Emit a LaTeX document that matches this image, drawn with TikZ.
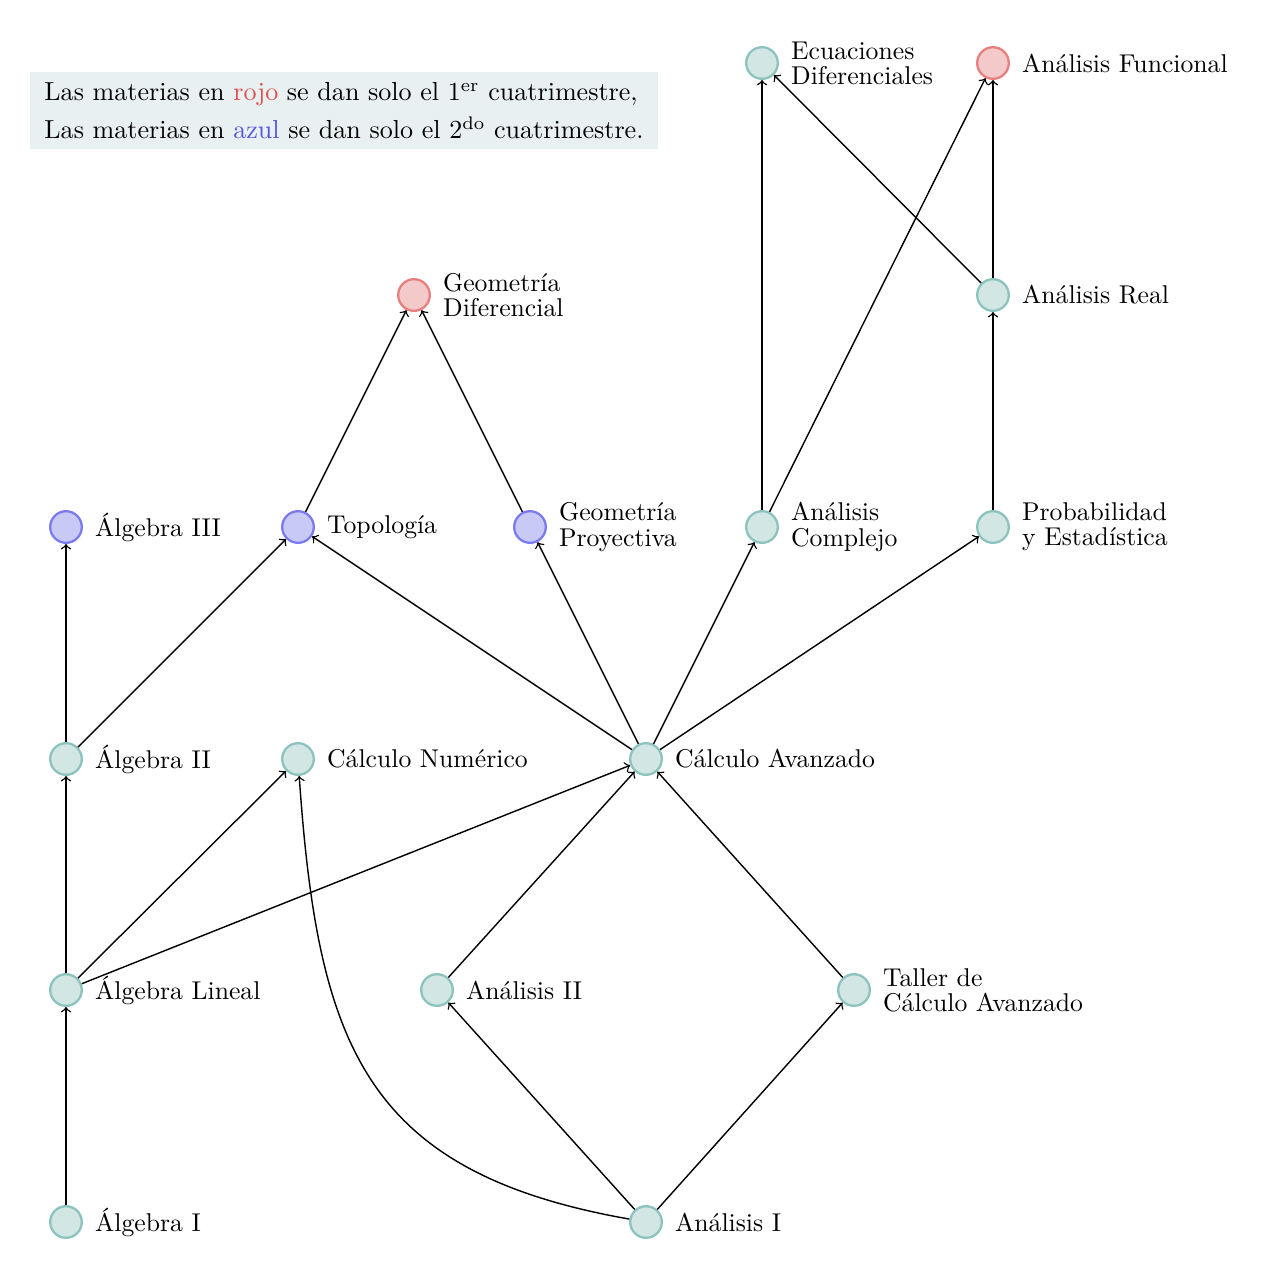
\documentclass[tikz,border=0pt]{standalone}
\usepackage{fontspec}
\definecolor{tfill}{HTML}{D2E6E3}
\definecolor{tdraw}{HTML}{8CC3BE}
\definecolor{rfill}{HTML}{F3C9C9}
\definecolor{rdraw}{HTML}{E77F7F}
\definecolor{bfill}{HTML}{C9C9F6}
\definecolor{bdraw}{HTML}{7B7BEE}
\definecolor{legbg}{HTML}{E8F0F1}
\definecolor{rojotxt}{HTML}{DD5050}
\definecolor{azultxt}{HTML}{5555DD}
\begin{document}
\begin{tikzpicture}[x=0.3891pt,y=-0.3891pt,
  materia/.style={circle,inner sep=0pt,minimum size=12.3pt,line width=0.9pt,draw=tdraw,fill=tfill},
  primer/.style={materia,draw=rdraw,fill=rfill},
  segundo/.style={materia,draw=bdraw,fill=bfill},
  every label/.style={align=left,font={\fontsize{10}{9.8}\selectfont},label distance=1.2pt},
  flecha/.style={->,line width=0.55pt,black}]
\useasboundingbox (0,0) rectangle (1274,1280);

\node[fill=legbg,inner xsep=5.6pt,inner ysep=4pt,align=left,font={\fontsize{10.14}{14.8}\selectfont}] (leg) at (344,110.5)
 {Las materias en \textcolor{rojotxt}{rojo} se dan solo el 1\textsuperscript{er} cuatrimestre,\\
  Las materias en \textcolor{azultxt}{azul} se dan solo el 2\textsuperscript{do} cuatrimestre.};

\node[materia,label={[name=A1t]right:Álgebra I}] (A1) at (66,1222) {};
\node[materia,label={[name=ALt]right:Álgebra Lineal}] (AL) at (66,990) {};
\node[materia,label={[name=A2t]right:Álgebra II}] (A2) at (66,759) {};
\node[segundo,label={[name=A3t]right:Álgebra III}] (A3) at (66,527) {};
\node[segundo,label={[name=Topt]right:Topología}] (Top) at (298,527) {};
\node[materia,label={[name=CNt]right:Cálculo Numérico}] (CN) at (298,759) {};
\node[primer,label={[name=GDt]right:Geometría\\Diferencial}] (GD) at (414,295) {};
\node[segundo,label={[name=GPt]right:Geometría\\Proyectiva}] (GP) at (530,527) {};
\node[materia,label={[name=CAt]right:Cálculo Avanzado}] (CA) at (646,759) {};
\node[materia,label={[name=AnIt]right:Análisis I}] (AnI) at (646,1222) {};
\node[materia,label={[name=AnIIt]right:Análisis II}] (AnII) at (437,990) {};
\node[materia,label={[name=Tallert]right:Taller de\\Cálculo Avanzado}] (Taller) at (854,990) {};
\node[materia,label={[name=ACt]right:Análisis\\Complejo}] (AC) at (762,527) {};
\node[materia,label={[name=PEt]right:Probabilidad\\y Estadística}] (PE) at (993,527) {};
\node[materia,label={[name=ARt]right:Análisis Real}] (AR) at (993,295) {};
\node[materia,label={[name=EDt]right:Ecuaciones\\Diferenciales}] (ED) at (762,63) {};
\node[primer,label={[name=AFt]right:Análisis Funcional}] (AF) at (993,63) {};

\draw[flecha] (A1) -- (AL);
\draw[flecha] (AL) -- (A2);
\draw[flecha] (AL) -- (CN);
\draw[flecha] (AL) -- (CA);
\draw[flecha] (A2) -- (A3);
\draw[flecha] (A2) -- (Top);
\draw[flecha] (CA) -- (Top);
\draw[flecha] (CA) -- (GP);
\draw[flecha] (CA) -- (AC);
\draw[flecha] (CA) -- (PE);
\draw[flecha] (Top) -- (GD);
\draw[flecha] (GP) -- (GD);
\draw[flecha] (AC) -- (ED);
\draw[flecha] (AC) -- (AF);
\draw[flecha] (PE) -- (AR);
\draw[flecha] (AR) -- (AF);
\draw[flecha] (AR) -- (ED);
\draw[flecha] (AnI) -- (AnII);
\draw[flecha] (AnI) -- (Taller);
\draw[flecha] (AnI) to[out=170,in=-86,looseness=1.25] (CN);
\draw[flecha] (AnII) -- (CA);
\draw[flecha] (Taller) -- (CA);
\end{tikzpicture}
\end{document}
